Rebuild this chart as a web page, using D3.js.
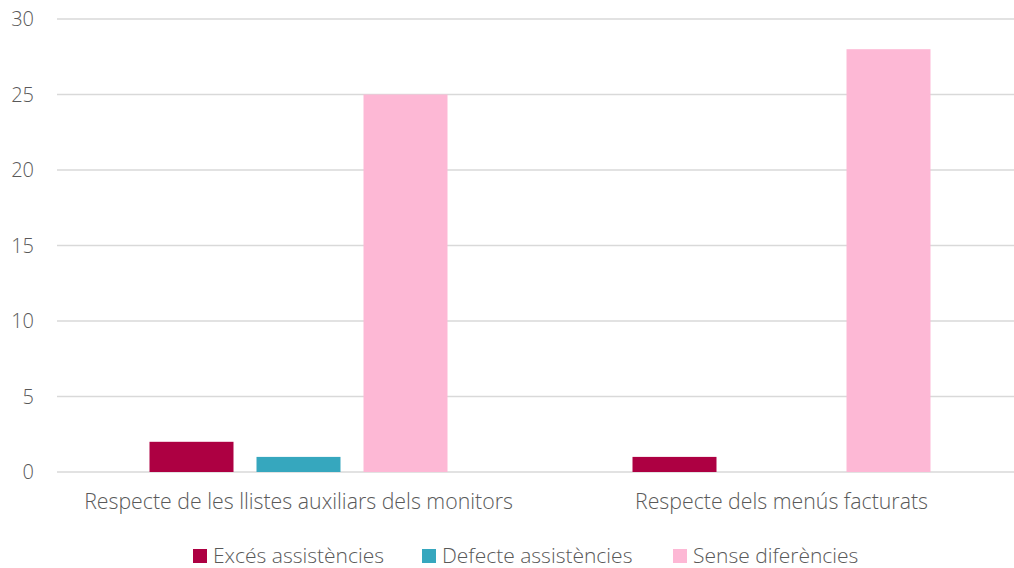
<!DOCTYPE html>
<html><head><meta charset="utf-8">
<script src="https://cdn.jsdelivr.net/npm/d3@7"></script>
<style>body{margin:0;background:#fff}svg{display:block}text{font-family:"Open Sans",Lato,sans-serif;font-weight:300;fill:#595959}</style>
</head><body>
<svg id="c" width="1014" height="568"></svg>
<script>
const categories = ["Respecte de les llistes auxiliars dels monitors", "Respecte dels menús facturats"];
const seriesNames = ["Excés assistències", "Defecte assistències", "Sense diferències"];
const excesValues = [2, 1];
const defecteValues = [1, 0];
const senseValues = [25, 28];
const yTicks = [0, 5, 10, 15, 20, 25, 30];
const colors = ["#ad0042", "#36a7be", "#fdb8d5"];

(function () {
const seriesValues = [excesValues, defecteValues, senseValues];
const svg = d3.select("#c");
const mLeft = 57, mRight = 1023, mTop = 19, mBottom = 472;
const y = d3.scaleLinear().domain([0, 30]).range([mBottom, mTop]);
const x0 = d3.scaleBand().domain(categories).range([mLeft, mRight]).padding(0);
const x1 = d3.scaleBand().domain(seriesNames).range([0, x0.bandwidth()]).paddingInner(0.215).paddingOuter(0.8645);

svg.append("g").selectAll("line").data(yTicks).join("line")
  .attr("x1", mLeft).attr("x2", 1014).attr("y1", d => y(d)).attr("y2", d => y(d))
  .attr("stroke", "#d9d9d9").attr("stroke-width", 1.5);

svg.append("g").selectAll("text").data(yTicks).join("text")
  .attr("x", 34).attr("y", d => y(d)).attr("dy", "0.35em").attr("text-anchor", "end")
  .attr("font-size", 20).text(d => d);

seriesNames.forEach((s, si) => {
  svg.append("g").selectAll("rect").data(categories).join("rect")
    .attr("x", c => x0(c) + x1(s)).attr("width", x1.bandwidth())
    .attr("y", (c, ci) => y(seriesValues[si][ci]))
    .attr("height", (c, ci) => y(0) - y(seriesValues[si][ci]))
    .attr("fill", colors[si]);
});

svg.append("g").selectAll("text").data(categories).join("text")
  .attr("x", c => x0(c) + x1("Defecte assistències") + x1.bandwidth() / 2)
  .attr("y", 502).attr("dy", "0.35em").attr("text-anchor", "middle")
  .attr("font-size", 21.3).text(c => c);

const legendX = [193, 422, 673];
const lg = svg.append("g").selectAll("g").data(seriesNames).join("g")
  .attr("transform", (d, i) => `translate(${legendX[i]},549)`);
lg.append("rect").attr("width", 14).attr("height", 14).attr("fill", (d, i) => colors[i]);
lg.append("text").attr("x", 20).attr("y", 7).attr("dy", "0.35em").attr("font-size", 21).text(d => d);
})();
</script>
</body></html>
